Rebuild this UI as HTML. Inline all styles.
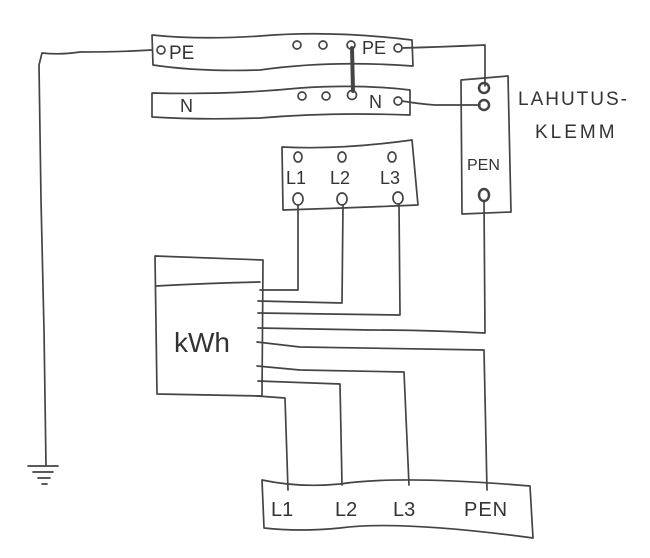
<!DOCTYPE html>
<html><head><meta charset="utf-8"><style>
html,body{margin:0;padding:0;background:#fff;}
svg{display:block}
text{font-family:"Liberation Sans",sans-serif;fill:#333;}
</style></head><body>
<svg width="650" height="558" viewBox="0 0 650 558" xmlns="http://www.w3.org/2000/svg">
<g fill="none" stroke="#444" stroke-width="1.7" stroke-linecap="round" stroke-linejoin="round">
<path d="M152 35 Q200 40 260 36 Q330 30 412 40 L413 66 Q330 60 260 70 Q200 72 153 65 Z"/>
<path d="M152 93 Q230 95 300 88 Q360 84 410 90 L410 115 Q330 112 260 118 Q200 120 152 117 Z"/>
<circle cx="161" cy="50" r="4"/>
<circle cx="297" cy="45" r="4"/><circle cx="323" cy="45" r="4"/><circle cx="351" cy="45" r="4"/>
<circle cx="398" cy="48" r="4"/>
<circle cx="302" cy="96" r="4"/><circle cx="326" cy="96" r="4"/><circle cx="352" cy="95" r="4.5"/>
<circle cx="398" cy="101" r="4"/>
<path d="M352 48 L353 91" stroke-width="4"/>
<path d="M402 48 Q440 47 485 45 L485 86"/>
<path d="M402 101 Q420 104 435 105 L480 105"/>
<path d="M461 80 L508 76 L511 212 L462 214 Z"/>
<ellipse cx="484" cy="88" rx="5" ry="5" stroke-width="2.5"/>
<ellipse cx="484" cy="105" rx="5" ry="5" stroke-width="2.5"/>
<ellipse cx="484" cy="195" rx="5" ry="6" stroke-width="2.5"/>
<path d="M282 147 Q340 150 412 140 L418 205 Q350 208 283 210 Z"/>
<ellipse cx="298" cy="157" rx="4" ry="5"/><ellipse cx="342" cy="157" rx="4" ry="5"/><ellipse cx="392" cy="157" rx="4" ry="5"/>
<ellipse cx="298" cy="199" rx="5" ry="6"/><ellipse cx="342" cy="199" rx="5" ry="6"/><ellipse cx="398" cy="198" rx="5" ry="6"/>
<path d="M298 205 L298 290 L260 290"/>
<path d="M343 205 L342 303 L258 301"/>
<path d="M399 204 L400 315 L258 313"/>
<path d="M484 201 L485 333 Q420 330 370 330 L258 328"/>
<path d="M155 256 L263 260 L262 396 L157 394 Z"/>
<path d="M156 286 Q210 283 260 282"/>
<path d="M257 342 L300 347 L484 350 L487 490"/>
<path d="M257 366 L300 370 L404 372 L409 485"/>
<path d="M258 381 L340 384 L342 485"/>
<path d="M257 396 L285 398 L288 490"/>
<path d="M262 480 Q300 488 340 484 Q400 475 530 486 L533 538 Q400 520 340 528 Q300 532 264 528 Z"/>
<path d="M152 50 Q120 52 80 52 Q60 55 42 53 L39 65 L41 200 L44 330 L46 466"/>
<path d="M28 466 L58 466 M33 472 L53 472 M38 478 L50 478 M42 484 L47 484"/>
</g>
<text x="169" y="59" font-size="19">PE</text>
<text x="362" y="54" font-size="18">PE</text>
<text x="180" y="112" font-size="18">N</text>
<text x="369" y="108" font-size="18">N</text>
<text x="518" y="105" font-size="19" letter-spacing="2">LAHUTUS-</text>
<text x="535" y="138" font-size="19" letter-spacing="3">KLEMM</text>
<text x="467" y="170" font-size="16">PEN</text>
<text x="286" y="184" font-size="18">L1</text>
<text x="330" y="184" font-size="18">L2</text>
<text x="380" y="184" font-size="18">L3</text>
<text x="174" y="352" font-size="28">kWh</text>
<text x="271" y="516" font-size="20">L1</text>
<text x="335" y="516" font-size="20">L2</text>
<text x="393" y="516" font-size="20">L3</text>
<text x="464" y="516" font-size="20" letter-spacing="1">PEN</text>
</svg>
</body></html>
